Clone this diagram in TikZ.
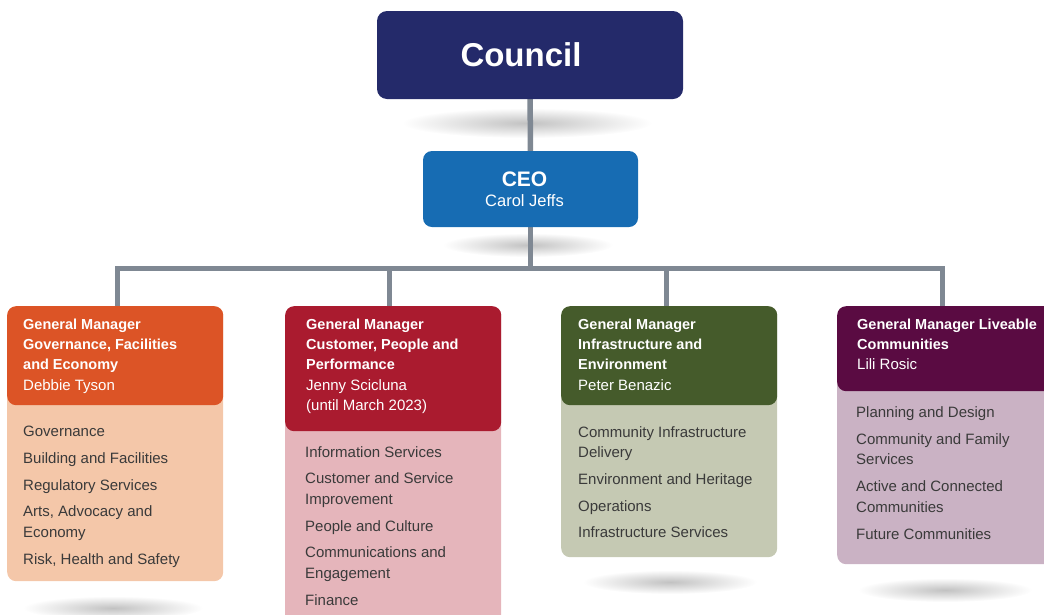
\documentclass[tikz,border=0pt]{standalone}
\usepackage{fontspec}
\setmainfont{Liberation Sans}
\usepackage{xcolor}
\usetikzlibrary{backgrounds}

\definecolor{councilblue}{HTML}{242A6A}
\definecolor{ceoblue}{HTML}{176CB3}
\definecolor{gmorange}{HTML}{DC5426}
\definecolor{gmpeach}{HTML}{F4C7A9}
\definecolor{gmred}{HTML}{AA1B2F}
\definecolor{gmpink}{HTML}{E5B5BB}
\definecolor{gmgreen}{HTML}{455B2B}
\definecolor{gmsage}{HTML}{C5C9B3}
\definecolor{gmplum}{HTML}{5A0B42}
\definecolor{gmmauve}{HTML}{CAB2C4}
\definecolor{linkgray}{HTML}{7F8893}
\definecolor{unitgray}{HTML}{3A3A3A}

% bold title lines in the manager boxes
\newcommand{\gmt}[1]{{\bfseries\fontsize{14.5}{20.3}\selectfont #1}}
% pushes a centred title a little to the left
\newcommand{\nudge}[1]{\rule{#1}{0pt}}

\begin{document}
\begin{tikzpicture}[
  x=1pt, y=-1pt,
  every node/.style={inner sep=0pt, font=\fontsize{15}{20.7}\selectfont},
  council/.style={fill=councilblue, rounded corners=10pt, minimum width=306pt,
                  minimum height=88pt, text=white,
                  font=\bfseries\fontsize{33}{36}\selectfont},
  chief/.style={fill=ceoblue, rounded corners=9pt, minimum width=215pt,
                minimum height=76pt, text=white, align=center,
                font=\fontsize{16.5}{20.5}\selectfont},
  panel/.style={anchor=north west, rounded corners=9pt, minimum width=216pt},
  head/.style={anchor=north west, align=left, text=white,
               font=\fontsize{15}{20.3}\selectfont},
  units/.style={anchor=north west, align=left, text=unitgray},
  link/.style={draw=linkgray, line width=5.5pt},
  shadow/.style={inner color=black!24, outer color=white}
]
\useasboundingbox (0,0) rectangle (1044,614);

\node[council] (council) at (530,55) {Council\nudge{18pt}};
\node[chief] (ceo) at (530.5,189) {{\bfseries\fontsize{21}{21}\selectfont CEO}\nudge{12pt}\\Carol Jeffs\nudge{12pt}};

% governance, facilities and economy
\node[panel, fill=gmpeach, minimum height=275pt] (body1) at (7,306) {};
\node[panel, fill=gmorange, minimum height=99pt] (cap1) at (7,306) {};
\node[head] (gm1) at (23,318.5) {\gmt{General Manager}\\\gmt{Governance, Facilities}\\\gmt{and Economy}\\Debbie Tyson};
\node[units] (units1) at (23,426) {Governance\\[6pt]Building and Facilities\\[6pt]Regulatory Services\\[6pt]Arts, Advocacy and\\Economy\\[6pt]Risk, Health and Safety};

% customer, people and performance
\node[panel, fill=gmpink, minimum height=330pt] (body2) at (285,306) {};
\node[panel, fill=gmred, minimum height=125pt] (cap2) at (285,306) {};
\node[head] (gm2) at (306,318.5) {\gmt{General Manager}\\\gmt{Customer, People and}\\\gmt{Performance}\\Jenny Scicluna\\(until March 2023)};
\node[units] (units2) at (305,446) {Information Services\\[6pt]Customer and Service\\Improvement\\[6pt]People and Culture\\[6pt]Communications and\\Engagement\\[6pt]Finance};

% infrastructure and environment
\node[panel, fill=gmsage, minimum height=251pt] (body3) at (561,306) {};
\node[panel, fill=gmgreen, minimum height=99pt] (cap3) at (561,306) {};
\node[head] (gm3) at (578,318.5) {\gmt{General Manager}\\\gmt{Infrastructure and}\\\gmt{Environment}\\Peter Benazic};
\node[units] (units3) at (578,426) {Community Infrastructure\\Delivery\\[6pt]Environment and Heritage\\[6pt]Operations\\[6pt]Infrastructure Services};

% liveable communities
\node[panel, fill=gmmauve, minimum height=258pt] (body4) at (837,306) {};
\node[panel, fill=gmplum, minimum height=85pt] (cap4) at (837,306) {};
\node[head] (gm4) at (857,318.5) {\gmt{General Manager Liveable}\\\gmt{Communities}\\Lili Rosic};
\node[units] (units4) at (856,406.5) {Planning and Design\\[6pt]Community and Family\\Services\\[6pt]Active and Connected\\Communities\\[6pt]Future Communities};

% drops off the branch bar
\coordinate (b1) at (117.5,268.5);
\coordinate (b2) at (389.5,268.5);
\coordinate (b3) at (666.5,268.5);
\coordinate (b4) at (942.5,268.5);

\begin{scope}[on background layer]
  \shade[shadow] (527,123) ellipse (125 and 15);
  \shade[shadow] (528,245) ellipse (85 and 12);
  \shade[shadow] (113,608) ellipse (90 and 12);
  \shade[shadow] (670,582) ellipse (87 and 12);
  \shade[shadow] (945,590) ellipse (87 and 12);

  \draw[link] (council) -- (ceo);
  \draw[link] (ceo) -- (ceo |- b1);
  \draw[link] (b1 |- cap1.north) -- (b1) -- (b4) -- (b4 |- cap4.north);
  \draw[link] (b2) -- (b2 |- cap2.north);
  \draw[link] (b3) -- (b3 |- cap3.north);
\end{scope}
\end{tikzpicture}
\end{document}
